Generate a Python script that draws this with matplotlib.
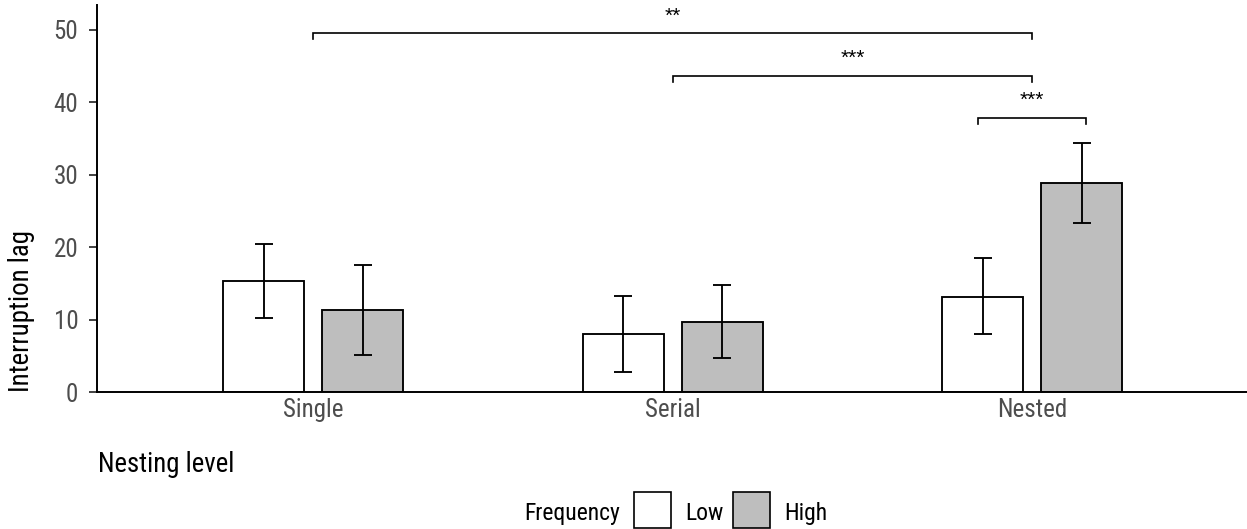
import matplotlib
matplotlib.use("Agg")
import matplotlib.pyplot as plt
from matplotlib import font_manager as fm
from matplotlib.patches import Rectangle
import numpy as np

# ---------------- data ----------------
categories = ["Single", "Serial", "Nested"]
groups = ["Low", "High"]
low_mean = [15.3, 8.1, 13.2]
low_lower = [10.2, 2.85, 8.0]
low_upper = [20.4, 13.3, 18.5]
high_mean = [11.3, 9.7, 28.9]
high_lower = [5.1, 4.7, 23.4]
high_upper = [17.5, 14.8, 34.4]
yticks = [0, 10, 20, 30, 40, 50]
# significance brackets: (x start, x end, height, label)
brackets = [(1.0, 3.0, 49.5, "**"),
            (2.0, 3.0, 43.6, "***"),
            (2.85, 3.15, 37.8, "***")]

# ---------------- fonts ----------------
names = {f.name for f in fm.fontManager.ttflist}
main_font = "Roboto Condensed" if "Roboto Condensed" in names else "Roboto"
plt.rcParams["font.family"] = [main_font, "DejaVu Sans"]

W, H = 1247, 529
fig = plt.figure(figsize=(W / 100, H / 100), dpi=100)
x0, x1, ytop, ybot = 97.3, 1248.0, 5.0, 392.3
ax = fig.add_axes([x0 / W, 1 - ybot / H, (x1 - x0) / W, (ybot - ytop) / H])

xpos = np.arange(1, len(categories) + 1)
off = 0.1375
bw = 0.225
fills = {"Low": "white", "High": "#bebebe"}
for g, means, lo, hi, sgn in [("Low", low_mean, low_lower, low_upper, -1),
                              ("High", high_mean, high_lower, high_upper, 1)]:
    xs = xpos + sgn * off
    ax.bar(xs, means, width=bw, color=fills[g], edgecolor="black",
           linewidth=1.35, zorder=2)
    means = np.array(means); lo = np.array(lo); hi = np.array(hi)
    ax.errorbar(xs, means, yerr=[means - lo, hi - means], fmt="none",
                ecolor="black", elinewidth=1.35, capsize=6.5, capthick=1.35,
                zorder=3)

for xa, xb, yy, lab in brackets:
    ax.plot([xa, xa, xb, xb], [yy - 0.8, yy, yy, yy - 0.8], color="black",
            lw=1.2, solid_joinstyle="miter", clip_on=False, zorder=4)
    ax.text((xa + xb) / 2, yy + 2.4, lab, ha="center", va="center",
            fontsize=15, family=["Liberation Sans", "DejaVu Sans"],
            color="black")

ax.set_xlim(0.4, 3.6)
ax.set_ylim(0, 53.4)
ax.set_xticks(xpos)
ax.set_xticklabels(categories)
ax.set_yticks(yticks)
for s in ["top", "right"]:
    ax.spines[s].set_visible(False)
for s in ["left", "bottom"]:
    ax.spines[s].set_linewidth(1.4)
    ax.spines[s].set_color("black")
ax.tick_params(axis="x", length=0, pad=4, labelsize=18, labelcolor="#4d4d4d")
ax.tick_params(axis="y", length=5.8, width=1.3, color="#333333", pad=7.9,
               labelsize=18, labelcolor="#4d4d4d")

fig.text(98.3 / W, 1 - 471.7 / H, "Nesting level", ha="left", va="baseline",
         fontsize=19.4, color="black")
fig.text(28.7 / W, 1 - 391.7 / H, "Interruption lag", rotation=90,
         rotation_mode="anchor", ha="left", va="baseline", fontsize=19.4,
         color="black")

# legend
fig.text(524.3 / W, 1 - 520 / H, "Frequency", ha="left", va="baseline",
         fontsize=17, color="black")
for g, bx, tx in [("Low", 634.3, 685.0), ("High", 733.3, 784.0)]:
    fig.patches.append(Rectangle((bx / W, 1 - 528 / H), 36.4 / W, 36.3 / H,
                                 transform=fig.transFigure, facecolor=fills[g],
                                 edgecolor="black", linewidth=1.2))
    fig.text(tx / W, 1 - 520 / H, g, ha="left", va="baseline", fontsize=17,
             color="black")

fig.savefig("out.png", dpi=100)
